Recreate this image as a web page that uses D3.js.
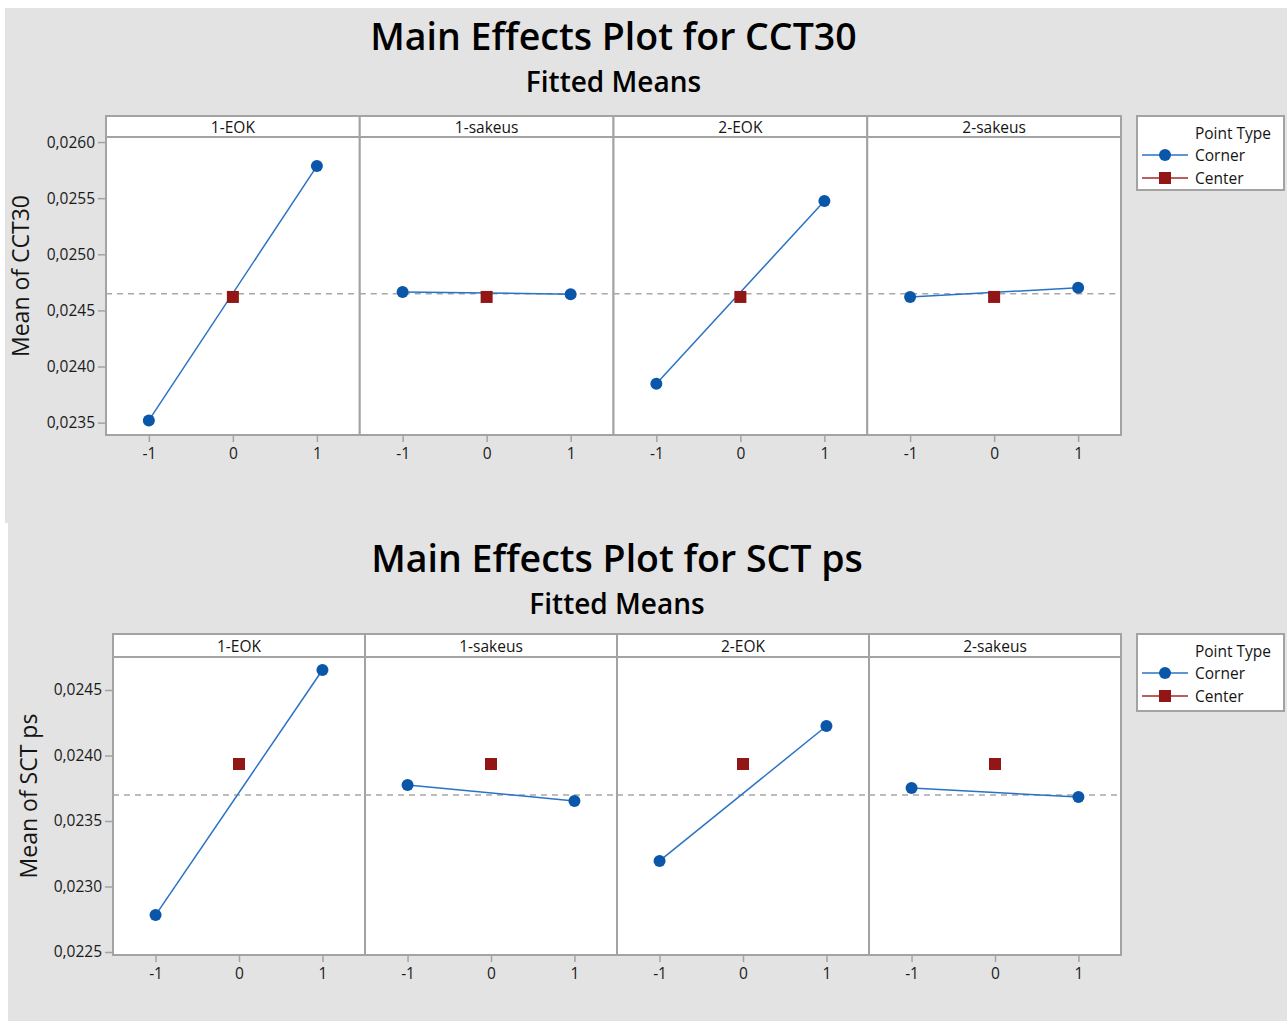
<!DOCTYPE html>
<html>
<head>
<meta charset="utf-8">
<script src="https://cdn.jsdelivr.net/npm/d3@7"></script>
<style>
  body { margin: 0; background: #ffffff; }
  svg { display: block; font-family: "Open Sans", "Noto Sans", sans-serif; }
  .tick text { fill: #1a1a1a; }
</style>
</head>
<body>
<div id="vis"></div>
<script>
const FRAME_WIDTH = 1287;
const FRAME_HEIGHT = 1021;

// data
const FACTORS = ["1-EOK", "1-sakeus", "2-EOK", "2-sakeus"];
const LEVELS = [-1, 1];
const X_TICKS = [-1, 0, 1];

const CCT30_CORNER = [
  [0.02352, 0.025786],
  [0.024665, 0.024645],
  [0.023847, 0.025475],
  [0.02462, 0.024701]
];
const CCT30_CENTER = [0.02462, 0.02462, 0.02462, 0.02462];
const CCT30_MEAN = 0.024648;
const CCT30_TICKS = [0.0235, 0.0240, 0.0245, 0.0250, 0.0255, 0.0260];

const SCT_CORNER = [
  [0.022782, 0.024653],
  [0.023775, 0.023653],
  [0.023195, 0.024225],
  [0.023752, 0.023683]
];
const SCT_CENTER = [0.023935, 0.023935, 0.023935, 0.023935];
const SCT_MEAN = 0.023698;
const SCT_TICKS = [0.0225, 0.0230, 0.0235, 0.0240, 0.0245];

const BLUE = "#0a56a8";
const LINE_BLUE = "#2a72c4";
const RED = "#921616";
const GRID = "#a3a3a3";
const BG = "#e3e3e3";
const INK = "#141414";

const svg = d3.select("#vis")
  .append("svg")
    .attr("width", FRAME_WIDTH)
    .attr("height", FRAME_HEIGHT);

const fmt = (v) => d3.format(".4f")(v).replace(".", ",");

function drawPlot(cfg) {
  const g = svg.append("g");

  g.append("rect")
    .attr("x", cfg.bg[0]).attr("y", cfg.bg[1])
    .attr("width", cfg.bg[2]).attr("height", cfg.bg[3])
    .attr("fill", BG);

  const cx = (cfg.left + cfg.right) / 2;
  g.append("text")
    .attr("x", cx).attr("y", cfg.titleY)
    .attr("text-anchor", "middle")
    .attr("dominant-baseline", "central")
    .attr("font-size", 37.5)
    .attr("font-weight", 600)
    .attr("fill", "#000")
    .text(cfg.title);
  g.append("text")
    .attr("x", cx).attr("y", cfg.subY)
    .attr("text-anchor", "middle")
    .attr("dominant-baseline", "central")
    .attr("font-size", 28)
    .attr("font-weight", 600)
    .attr("fill", "#000")
    .text("Fitted Means");

  const Y_SCALE = d3.scaleLinear()
    .domain(cfg.yDomain)
    .range([cfg.plotBottom, cfg.plotTop]);

  const PANEL = d3.scaleBand()
    .domain(FACTORS)
    .range([cfg.left, cfg.right]);

  // y axis
  g.append("g")
    .attr("transform", `translate(${cfg.left},0)`)
    .call(d3.axisLeft(Y_SCALE).tickValues(cfg.ticks).tickFormat(fmt).tickSize(8).tickPadding(3))
    .call((a) => a.select(".domain").remove())
    .call((a) => a.selectAll(".tick line").attr("stroke", GRID).attr("stroke-width", 1.5))
    .call((a) => a.selectAll(".tick text").attr("font-size", 15.5).attr("font-family", "Open Sans").attr("font-weight", 500));

  g.append("text")
    .attr("transform", `translate(${cfg.yLabelX},${(cfg.plotTop + cfg.plotBottom) / 2 - 10}) rotate(-90)`)
    .attr("text-anchor", "middle")
    .attr("dominant-baseline", "central")
    .attr("font-size", 23)
    .attr("font-weight", 500)
    .attr("fill", INK)
    .text(cfg.yLabel);

  FACTORS.forEach((f, i) => {
    const x0 = PANEL(f);
    const w = PANEL.bandwidth();
    const X_SCALE = d3.scaleLinear()
      .domain([-1.51, 1.51])
      .range([x0, x0 + w]);

    const p = g.append("g");

    // strip
    p.append("rect")
      .attr("x", x0).attr("y", cfg.stripTop)
      .attr("width", w).attr("height", cfg.plotTop - cfg.stripTop)
      .attr("fill", "#fff").attr("stroke", GRID).attr("stroke-width", 2);
    p.append("text")
      .attr("x", x0 + w / 2).attr("y", (cfg.stripTop + cfg.plotTop) / 2)
      .attr("text-anchor", "middle")
      .attr("dominant-baseline", "central")
      .attr("font-size", 15.5)
      .attr("font-weight", 500)
      .attr("fill", INK)
      .text(f);

    // plot area
    p.append("rect")
      .attr("x", x0).attr("y", cfg.plotTop)
      .attr("width", w).attr("height", cfg.plotBottom - cfg.plotTop)
      .attr("fill", "#fff").attr("stroke", GRID).attr("stroke-width", 2);

    // grand mean
    p.append("line")
      .attr("x1", x0).attr("x2", x0 + w)
      .attr("y1", Y_SCALE(cfg.mean)).attr("y2", Y_SCALE(cfg.mean))
      .attr("stroke", "#a8a8a8").attr("stroke-width", 1.5)
      .attr("stroke-dasharray", "6,5");

    // x axis
    p.append("g")
      .attr("transform", `translate(0,${cfg.plotBottom})`)
      .call(d3.axisBottom(X_SCALE).tickValues(X_TICKS).tickFormat(d3.format("d")).tickSize(7).tickPadding(6))
      .call((a) => a.select(".domain").remove())
      .call((a) => a.selectAll(".tick line").attr("stroke", GRID).attr("stroke-width", 1.5))
      .call((a) => a.selectAll(".tick text").attr("font-size", 15.5).attr("font-family", "Open Sans").attr("font-weight", 500).text((d) => d < 0 ? "-1" : d));

    const pts = LEVELS.map((lv, j) => ({x: lv, y: cfg.corner[i][j]}));

    p.append("path")
      .datum(pts)
      .attr("fill", "none")
      .attr("stroke", LINE_BLUE)
      .attr("stroke-width", 1.5)
      .attr("d", d3.line().x((d) => X_SCALE(d.x)).y((d) => Y_SCALE(d.y)));

    p.selectAll("circle")
      .data(pts)
      .enter()
      .append("circle")
      .attr("cx", (d) => X_SCALE(d.x))
      .attr("cy", (d) => Y_SCALE(d.y))
      .attr("r", 6)
      .attr("fill", BLUE);

    p.append("rect")
      .attr("x", X_SCALE(0) - 6)
      .attr("y", Y_SCALE(cfg.center[i]) - 6)
      .attr("width", 12).attr("height", 12)
      .attr("fill", RED);
  });

  // legend
  const lg = g.append("g").attr("transform", `translate(${cfg.legend[0]},${cfg.legend[1]})`);
  lg.append("rect")
    .attr("width", cfg.legend[2]).attr("height", cfg.legend[3])
    .attr("fill", "#fff").attr("stroke", GRID).attr("stroke-width", 2);
  lg.append("text")
    .attr("x", 134).attr("y", 17)
    .attr("text-anchor", "end")
    .attr("dominant-baseline", "central")
    .attr("font-size", 15.5)
    .attr("font-weight", 500)
    .attr("fill", INK)
    .text("Point Type");
  const items = [
    {label: "Corner", color: LINE_BLUE, mark: BLUE, shape: "circle"},
    {label: "Center", color: "#a02a2a", mark: RED, shape: "square"}
  ];
  items.forEach((it, k) => {
    const yy = 39 + k * 23;
    lg.append("line")
      .attr("x1", 5).attr("x2", 51).attr("y1", yy).attr("y2", yy)
      .attr("stroke", it.color).attr("stroke-width", 1.5);
    if (it.shape === "circle") {
      lg.append("circle").attr("cx", 28).attr("cy", yy).attr("r", 6).attr("fill", it.mark);
    } else {
      lg.append("rect").attr("x", 22).attr("y", yy - 6).attr("width", 12).attr("height", 12).attr("fill", it.mark);
    }
    lg.append("text")
      .attr("x", 58).attr("y", yy)
      .attr("dominant-baseline", "central")
      .attr("font-size", 15.5)
      .attr("font-weight", 500)
      .attr("fill", INK)
      .text(it.label);
  });
}

drawPlot({
  bg: [5, 8, 1282, 515],
  title: "Main Effects Plot for CCT30",
  titleY: 35, subY: 81,
  left: 106, right: 1121,
  stripTop: 116, plotTop: 137, plotBottom: 435,
  yDomain: [0.02339, 0.026045],
  ticks: CCT30_TICKS,
  yLabel: "Mean of CCT30", yLabelX: 20,
  corner: CCT30_CORNER, center: CCT30_CENTER, mean: CCT30_MEAN,
  legend: [1137, 116, 147, 74]
});

drawPlot({
  bg: [8, 523, 1279, 498],
  title: "Main Effects Plot for SCT ps",
  titleY: 557, subY: 603,
  left: 113, right: 1121,
  stripTop: 634, plotTop: 657, plotBottom: 955,
  yDomain: [0.022477, 0.024752],
  ticks: SCT_TICKS,
  yLabel: "Mean of SCT ps", yLabelX: 28,
  corner: SCT_CORNER, center: SCT_CENTER, mean: SCT_MEAN,
  legend: [1137, 634, 147, 77]
});
</script>
</body>
</html>
